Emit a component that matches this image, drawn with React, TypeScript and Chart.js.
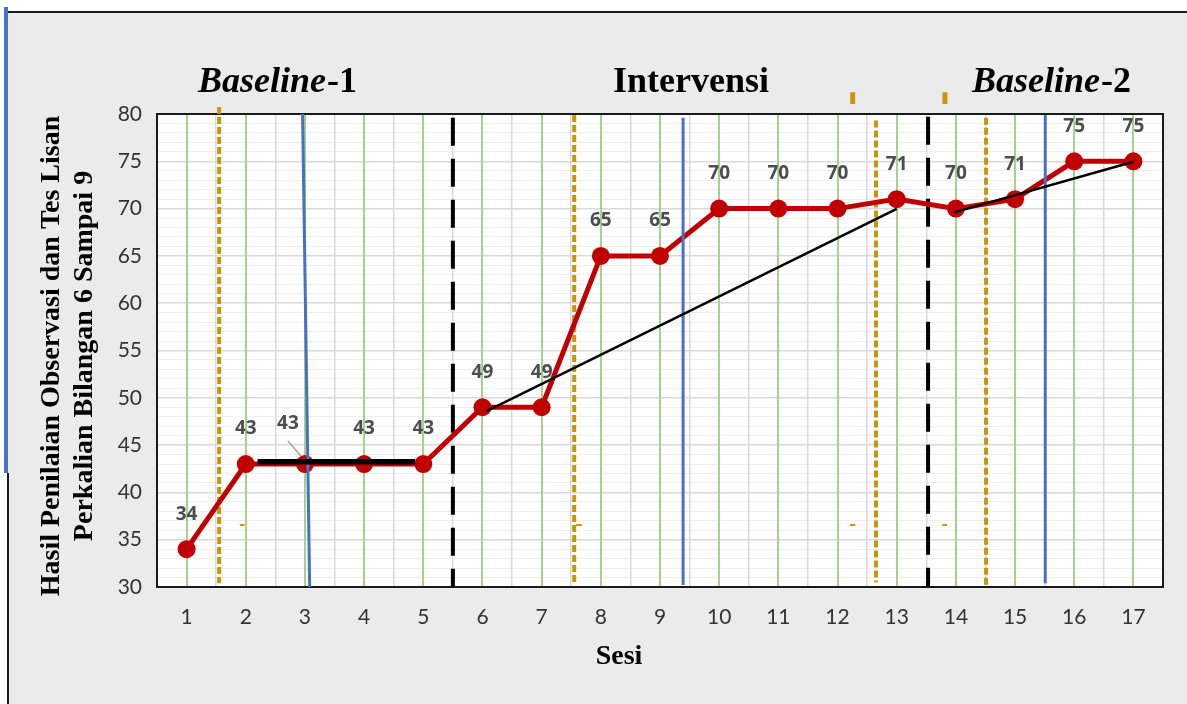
import React, { useEffect, useRef } from "react";
import { Chart, registerables } from "chart.js";

Chart.register(...registerables);

// ---------- data ----------
const sesi = [1, 2, 3, 4, 5, 6, 7, 8, 9, 10, 11, 12, 13, 14, 15, 16, 17];
const nilai = [34, 43, 43, 43, 43, 49, 49, 65, 65, 70, 70, 70, 71, 70, 71, 75, 75];

const judulFase = ["Baseline-1", "Intervensi", "Baseline-2"];
const judulY = ["Hasil Penilaian Observasi dan Tes Lisan", "Perkalian Bilangan 6 Sampai 9"];
const judulX = "Sesi";

// dashed orange lines (x position, top value, bottom value)
const oranyeX = [1.55, 7.55, 12.65, 14.51];
const oranyeAtas = [80.75, 79.9, 79.3, 79.6];
const oranyeBawah = [30.4, 30.4, 30.5, 30.0];

// dashed black phase-change lines
const faseX = [5.5, 13.53];
const faseAtas = [79.6, 79.7];
const faseBawah = [30, 30];

// solid blue lines (top x, bottom x, top value, bottom value)
const biruXAtas = [2.96, 9.39, 15.51];
const biruXBawah = [3.08, 9.39, 15.51];
const biruAtas = [80, 79.6, 79.9];
const biruBawah = [30, 30.2, 30.4];

// black trend lines
const tren1X = [2.2, 4.86];
const tren1Y = [43.25, 43.25];
const tren2X = [6.07, 13.0];
const tren2Y = [48.6, 69.96];
const tren3X = [13.97, 17];
const tren3Y = [69.6, 74.95];

// small orange marks
const tandaVX = [12.256, 13.815];
const tandaVY = [81.06, 82.3];
const tandaHY = 36.55;
const tandaHX = [
  [1.9, 1.98],
  [7.58, 7.68],
  [12.21, 12.3],
  [13.77, 13.85],
];

const X_MIN = 0.5;
const X_MAX = 17.5;
const Y_MIN = 30;
const Y_MAX = 80;

const MERAH = "#C00000";
const ORANYE = "#C9950C";
const BIRU = "#4472C4";

function seg(x1: number, y1: number, x2: number, y2: number) {
  return [
    { x: x1, y: y1 },
    { x: x2, y: y2 },
  ];
}

const plainLine = {
  type: "line" as const,
  pointRadius: 0,
  pointHoverRadius: 0,
  fill: false,
  tension: 0,
};

const dekorasi = {
  id: "dekorasi",
  beforeDraw(chart: any) {
    const { ctx, chartArea: a, width, height } = chart;
    ctx.save();
    ctx.fillStyle = "#EBEBEB";
    ctx.fillRect(0, 0, width, height);
    ctx.fillStyle = "#FFFFFF";
    ctx.fillRect(0, 0, width, 11);
    ctx.fillRect(0, 0, 7, height);
    ctx.fillRect(a.left, a.top, a.right - a.left, a.bottom - a.top);
    ctx.fillStyle = "#1A1A1A";
    ctx.fillRect(8, 11, width - 8, 2);
    ctx.fillRect(7, 473, 2, height - 473);
    ctx.fillStyle = BIRU;
    ctx.fillRect(4, 7, 4, 466);
    ctx.restore();
  },
  beforeDatasetsDraw(chart: any) {
    const { ctx, chartArea: a } = chart;
    ctx.save();
    ctx.strokeStyle = "#1A1A1A";
    ctx.lineWidth = 2;
    ctx.strokeRect(a.left, a.top, a.right - a.left, a.bottom - a.top);
    ctx.restore();
  },
  afterDatasetsDraw(chart: any) {
    const { ctx } = chart;
    const idx = chart.data.datasets.findIndex((d: any) => d.label === "Nilai");
    const meta = chart.getDatasetMeta(idx);
    ctx.save();
    ctx.font = 'bold 19px "Open Sans"';
    ctx.fillStyle = "#4D4D4D";
    ctx.textAlign = "center";
    ctx.textBaseline = "middle";
    meta.data.forEach((pt: any, i: number) => {
      const v = nilai[i];
      if (i === 2) {
        ctx.fillText(String(v), pt.x - 17, pt.y - 40);
        ctx.strokeStyle = "#A6A6A6";
        ctx.lineWidth = 1.5;
        ctx.beginPath();
        ctx.moveTo(pt.x - 17, pt.y - 23);
        ctx.lineTo(pt.x - 4, pt.y - 8);
        ctx.stroke();
      } else {
        ctx.fillText(String(v), pt.x, pt.y - 35);
      }
    });
    ctx.restore();
  },
  afterDraw(chart: any) {
    const { ctx } = chart;
    ctx.save();
    ctx.fillStyle = "#000000";
    ctx.textBaseline = "alphabetic";
    ctx.textAlign = "left";
    const fontI = 'italic bold 36px "Liberation Serif"';
    const fontB = 'bold 36px "Liberation Serif"';
    const drawBaseline = (label: string, cx: number) => {
      const [w1, w2] = [label.split("-")[0], "-" + label.split("-")[1]];
      ctx.font = fontI;
      const a = ctx.measureText(w1).width;
      ctx.font = fontB;
      const b = ctx.measureText(w2).width;
      const x0 = cx - (a + b) / 2;
      ctx.font = fontI;
      ctx.fillText(w1, x0, 92);
      ctx.font = fontB;
      ctx.fillText(w2, x0 + a + 1, 92);
    };
    drawBaseline(judulFase[0], 277);
    ctx.font = fontB;
    ctx.textAlign = "center";
    ctx.fillText(judulFase[1], 691, 92);
    ctx.textAlign = "left";
    drawBaseline(judulFase[2], 1051);

    // axis titles
    ctx.font = 'bold 28px "Liberation Serif"';
    ctx.textAlign = "center";
    ctx.textBaseline = "middle";
    ctx.fillText(judulX, 619, 657);
    ctx.save();
    ctx.translate(52, 356);
    ctx.rotate(-Math.PI / 2);
    ctx.fillText(judulY[0], 0, 0);
    ctx.restore();
    ctx.save();
    ctx.translate(85, 356);
    ctx.rotate(-Math.PI / 2);
    ctx.fillText(judulY[1], 0, 0);
    ctx.restore();
    ctx.restore();
  },
};

export default function App() {
  const ref = useRef<HTMLCanvasElement>(null);

  useEffect(() => {
    if (!ref.current) return;

    const datasets: any[] = [];

    datasets.push({
      ...plainLine,
      label: "Nilai",
      data: sesi.map((s, i) => ({ x: s, y: nilai[i] })),
      borderColor: MERAH,
      backgroundColor: MERAH,
      borderWidth: 5,
      pointRadius: 9,
      pointBackgroundColor: MERAH,
      pointBorderColor: MERAH,
      pointBorderWidth: 0,
      order: 5,
    });

    oranyeX.forEach((x, i) => {
      datasets.push({
        ...plainLine,
        label: "oranye" + i,
        data: seg(x, oranyeAtas[i], x, oranyeBawah[i]),
        borderColor: ORANYE,
        borderWidth: 4,
        borderDash: [7, 3],
        borderCapStyle: "butt",
        clip: false,
        order: 8,
      });
    });

    faseX.forEach((x, i) => {
      datasets.push({
        ...plainLine,
        label: "fase" + i,
        data: seg(x, faseAtas[i], x, faseBawah[i]),
        borderColor: "#000000",
        borderWidth: 4,
        borderDash: [28, 13],
        clip: false,
        order: 8,
      });
    });

    biruXAtas.forEach((x, i) => {
      datasets.push({
        ...plainLine,
        label: "biru" + i,
        data: seg(x, biruAtas[i], biruXBawah[i], biruBawah[i]),
        borderColor: BIRU,
        borderWidth: 3,
        clip: false,
        order: 2,
      });
    });

    [
      [tren1X, tren1Y, 5.5],
      [tren2X, tren2Y, 2.5],
      [tren3X, tren3Y, 2.5],
    ].forEach(([xs, ys, w]: any, i) => {
      datasets.push({
        ...plainLine,
        label: "tren" + i,
        data: seg(xs[0], ys[0], xs[1], ys[1]),
        borderColor: "#000000",
        borderWidth: w,
        order: 1,
      });
    });

    tandaVX.forEach((x, i) => {
      datasets.push({
        ...plainLine,
        label: "tandaV" + i,
        data: seg(x, tandaVY[0], x, tandaVY[1]),
        borderColor: ORANYE,
        borderWidth: 5,
        clip: false,
        order: 8,
      });
    });
    tandaHX.forEach((xs, i) => {
      datasets.push({
        ...plainLine,
        label: "tandaH" + i,
        data: seg(xs[0], tandaHY, xs[1], tandaHY),
        borderColor: ORANYE,
        borderWidth: 2,
        clip: false,
        order: 8,
      });
    });

    const chart = new Chart(ref.current, {
      type: "line",
      data: { datasets },
      plugins: [dekorasi],
      options: {
        responsive: false,
        animation: false,
        devicePixelRatio: 1,
        layout: { padding: { left: 0, right: 24, top: 114, bottom: 0 } },
        plugins: {
          legend: { display: false },
          tooltip: { enabled: false },
          title: { display: false },
        },
        events: [],
        scales: {
          x: {
            type: "linear",
            min: X_MIN,
            max: X_MAX,
            border: { display: false },
            grid: {
              z: -1,
              drawTicks: false,
              color: (c: any) =>
                Number.isInteger(c.tick.value) ? "#A9D18E" : "#D9D9D9",
              lineWidth: (c: any) => (Number.isInteger(c.tick.value) ? 2 : 1.5),
            },
            ticks: {
              stepSize: 0.5,
              autoSkip: false,
              maxRotation: 0,
              minRotation: 0,
              padding: 18,
              color: "#333333",
              font: { family: "Lato", size: 21 },
              callback: (v: any) => (Number.isInteger(v) ? String(v) : ""),
            },
            afterFit: (s: any) => {
              s.height = 117;
            },
          },
          y: {
            type: "linear",
            min: Y_MIN,
            max: Y_MAX,
            border: { display: false },
            grid: {
              z: -2,
              drawTicks: false,
              color: (c: any) => (c.tick.value % 5 === 0 ? "#D9D9D9" : "#EFEFEF"),
              lineWidth: (c: any) => (c.tick.value % 5 === 0 ? 1.5 : 1),
            },
            ticks: {
              stepSize: 1,
              autoSkip: false,
              padding: 15,
              color: "#333333",
              font: { family: "Lato", size: 21 },
              callback: (v: any) => (v % 5 === 0 ? String(v) : ""),
            },
            afterFit: (s: any) => {
              s.width = 157;
            },
          },
        },
      },
    });

    return () => chart.destroy();
  }, []);

  return (
    <div style={{ position: "absolute", left: 0, top: 0, width: 1187, height: 704 }}>
      <canvas ref={ref} width={1187} height={704} style={{ display: "block" }} />
    </div>
  );
}
